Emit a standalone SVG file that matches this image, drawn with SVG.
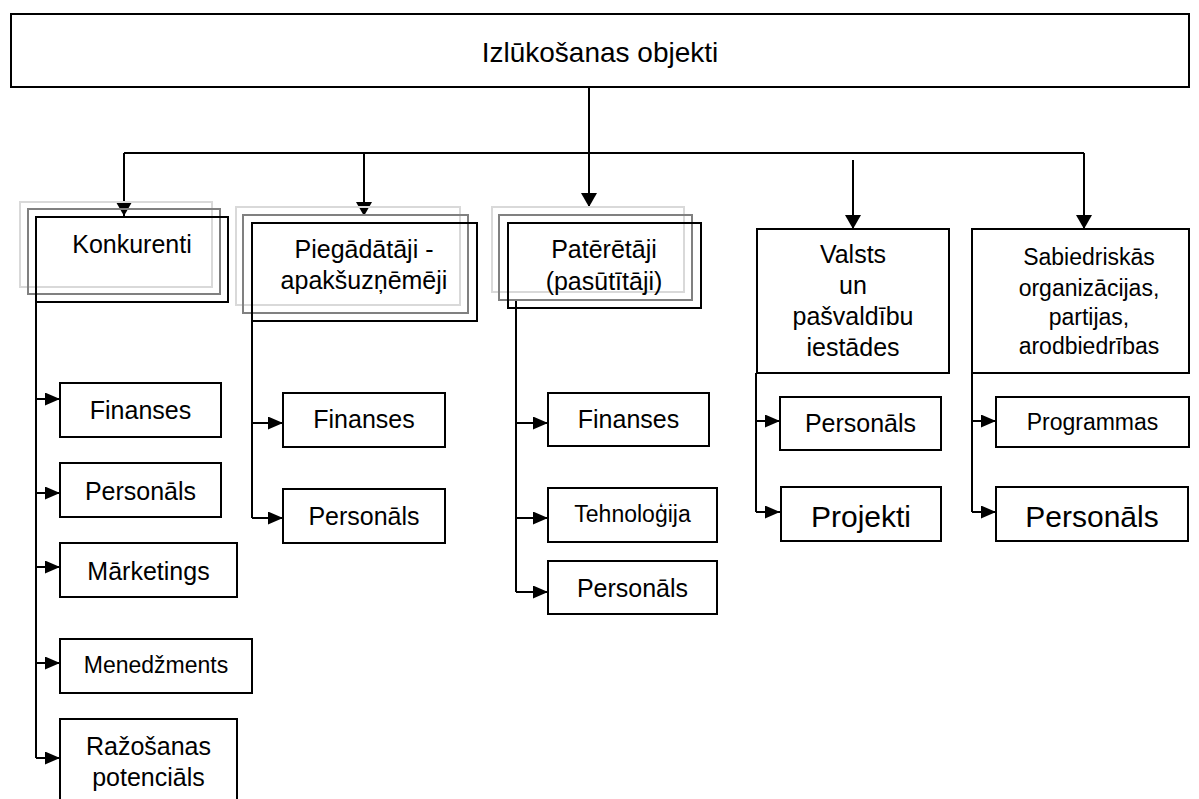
<svg xmlns="http://www.w3.org/2000/svg" width="1199" height="799" viewBox="0 0 1199 799">
<style>
.box{fill:none;stroke:#000;stroke-width:2}
.g1{fill:none;stroke:#d9d9d9;stroke-width:2}
.g2{fill:none;stroke:#808080;stroke-width:2}
.ln{fill:none;stroke:#000;stroke-width:2}
text{font-family:"Liberation Sans",Arial,sans-serif;fill:#000;text-anchor:middle}
.t25{font-size:25px}
.t23{font-size:23px}
.t30{font-size:30px}
</style>
<defs>
<marker id="arrS" viewBox="0 0 15 13" refX="15" refY="6.5" markerWidth="15" markerHeight="13" markerUnits="userSpaceOnUse" orient="auto"><path d="M0,0 L15,6.5 L0,13 Z" fill="#000"/></marker>
<marker id="arrT" viewBox="0 0 14 16" refX="14" refY="8" markerWidth="14" markerHeight="16" markerUnits="userSpaceOnUse" orient="auto"><path d="M0,0 L14,8 L0,16 Z" fill="#000"/></marker>
</defs>
<rect width="1199" height="799" fill="#fff"/>

<g id="connectors">
<path class="ln" d="M589,87 V153 M124,153 H1084"/>
<path class="ln" d="M124,153 V216" marker-end="url(#arrT)"/>
<path class="ln" d="M364,153 V216" marker-end="url(#arrT)"/>
<path class="ln" d="M589,153 V207" marker-end="url(#arrT)"/>
<path class="ln" d="M853,160 V229" marker-end="url(#arrT)"/>
<path class="ln" d="M1084,153 V229" marker-end="url(#arrT)"/>

<path class="ln" d="M36,302 V758"/>
<path class="ln" d="M36,399 H60" marker-end="url(#arrS)"/>
<path class="ln" d="M36,493 H60" marker-end="url(#arrS)"/>
<path class="ln" d="M36,567 H60" marker-end="url(#arrS)"/>
<path class="ln" d="M36,663 H60" marker-end="url(#arrS)"/>
<path class="ln" d="M36,758 H60" marker-end="url(#arrS)"/>

<path class="ln" d="M252,321 V518"/>
<path class="ln" d="M252,423 H283" marker-end="url(#arrS)"/>
<path class="ln" d="M252,518 H283" marker-end="url(#arrS)"/>

<path class="ln" d="M516,300 V592"/>
<path class="ln" d="M516,423 H548" marker-end="url(#arrS)"/>
<path class="ln" d="M516,518 H548" marker-end="url(#arrS)"/>
<path class="ln" d="M516,592 H548" marker-end="url(#arrS)"/>

<path class="ln" d="M756,373 V512"/>
<path class="ln" d="M756,421 H780" marker-end="url(#arrS)"/>
<path class="ln" d="M756,512 H780" marker-end="url(#arrS)"/>

<path class="ln" d="M972,373 V512"/>
<path class="ln" d="M972,421 H996" marker-end="url(#arrS)"/>
<path class="ln" d="M972,512 H996" marker-end="url(#arrS)"/>
</g>

<g id="root">
<rect class="box" x="11" y="14" width="1178" height="73"/>
<text x="600" y="62" style="font-size:28px">Izlūkošanas objekti</text>
</g>

<g id="konkurenti">
<rect class="g1" x="20" y="202" width="192" height="85"/>
<rect class="g2" x="28" y="209" width="192" height="85"/>
<rect class="box" x="36" y="217" width="192" height="85"/>
<text class="t25" x="132" y="253">Konkurenti</text>
</g>
<g id="k-finanses"><rect class="box" x="60" y="383" width="161" height="54"/><text class="t25" x="140.5" y="419">Finanses</text></g>
<g id="k-personals"><rect class="box" x="60" y="463" width="161" height="54"/><text class="t25" x="140.5" y="500">Personāls</text></g>
<g id="k-marketings"><rect class="box" x="60" y="543" width="177" height="54"/><text class="t25" x="148.5" y="580">Mārketings</text></g>
<g id="k-menedzments"><rect class="box" x="60" y="639" width="192" height="54"/><text class="t23" x="156" y="673">Menedžments</text></g>
<g id="k-razosanas"><rect class="box" x="60" y="719" width="177" height="95"/><text class="t25" x="148.5" y="755">Ražošanas</text><text class="t25" x="148.5" y="786">potenciāls</text></g>

<g id="piegadataji">
<rect class="g1" x="236" y="207" width="224" height="98"/>
<rect class="g2" x="243" y="215" width="225" height="98"/>
<rect class="box" x="252" y="223" width="225" height="98"/>
<text class="t25" x="364" y="258">Piegādātāji -</text>
<text class="t25" x="364" y="289">apakšuzņēmēji</text>
</g>
<g id="p-finanses"><rect class="box" x="283" y="393" width="162" height="54"/><text class="t25" x="364" y="428">Finanses</text></g>
<g id="p-personals"><rect class="box" x="283" y="489" width="162" height="54"/><text class="t25" x="364" y="525">Personāls</text></g>

<g id="pateretaji">
<rect class="g1" x="492" y="207" width="192" height="85"/>
<rect class="g2" x="499" y="215" width="193" height="85"/>
<rect class="box" x="508" y="223" width="193" height="85"/>
<text class="t25" x="604" y="258">Patērētāji</text>
<text class="t25" x="604" y="290">(pasūtītāji)</text>
</g>
<g id="c-finanses"><rect class="box" x="548" y="393" width="161" height="53"/><text class="t25" x="628.5" y="428">Finanses</text></g>
<g id="c-tehnologija"><rect class="box" x="548" y="488" width="169" height="54"/><text class="t23" x="632.5" y="522">Tehnoloģija</text></g>
<g id="c-personals"><rect class="box" x="548" y="561" width="169" height="53"/><text class="t25" x="632.5" y="597">Personāls</text></g>

<g id="valsts">
<rect class="box" x="757" y="229" width="192" height="144"/>
<text class="t25" x="853" y="263">Valsts</text>
<text class="t25" x="853" y="294">un</text>
<text class="t25" x="853" y="325">pašvaldību</text>
<text class="t25" x="853" y="356">iestādes</text>
</g>
<g id="v-personals"><rect class="box" x="780" y="397" width="161" height="53"/><text class="t25" x="860.5" y="432">Personāls</text></g>
<g id="v-projekti"><rect class="box" x="781" y="487" width="160" height="54"/><text class="t30" x="861" y="527">Projekti</text></g>

<g id="sabiedriskas">
<rect class="box" x="972" y="229" width="217" height="144"/>
<text class="t23" x="1089" y="265">Sabiedriskās</text>
<text class="t23" x="1089" y="296">organizācijas,</text>
<text class="t23" x="1089" y="325">partijas,</text>
<text class="t23" x="1089" y="354">arodbiedrības</text>
</g>
<g id="s-programmas"><rect class="box" x="996" y="397" width="193" height="50"/><text class="t23" x="1092.5" y="430">Programmas</text></g>
<g id="s-personals"><rect class="box" x="996" y="487" width="192" height="54"/><text class="t30" x="1092" y="527">Personāls</text></g>
</svg>
